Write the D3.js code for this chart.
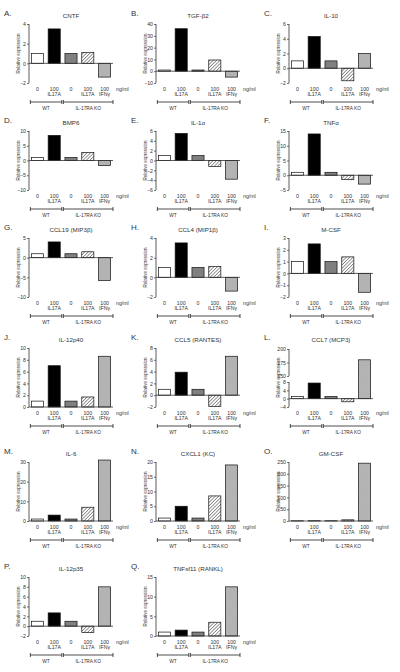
<!DOCTYPE html>
<html><head><meta charset="utf-8">
<script src="https://cdn.jsdelivr.net/npm/d3@7"></script>
<style>
body{margin:0;background:#fff}
svg{display:block}
text{font-family:"Liberation Sans",Arial,sans-serif;fill:#333}
</style>
</head><body><svg id="c" width="400" height="672"></svg>
<script>
const letters = ["A.","B.","C.","D.","E.","F.","G.","H.","I.","J.","K.","L.","M.","N.","O.","P.","Q."];
const titles = ["CNTF","TGF-β2","IL-10","BMP6","IL-1α","TNFα","CCL19 (MIP3β)","CCL4 (MIP1β)","M-CSF","IL-12p40","CCL5 (RANTES)","CCL7 (MCP3)","IL-6","CXCL1 (KC)","GM-CSF","IL-12p35","TNFsf11 (RANKL)"];
const conditions = ["WT 0","WT IL17A","KO 0","KO IL17A","KO IFNγ"];
const doseLabels = ["0","100","0","100","100"];
const treatLabels = ["","IL17A","","IL17A","IFNγ"];
const groupLabels = ["WT","IL-17RA KO"];

const valCNTF   = [1, 3.5, 1, 1.1, -1.4];
const valTGFb2  = [1, 36, 1, 9.5, -5];
const valIL10   = [1, 4.3, 1, -1.7, 2];
const valBMP6   = [1, 8.5, 1, 2.7, -1.7];
const valIL1a   = [1, 5.5, 1, -1.2, -3.8];
const valTNFa   = [1, 14, 1, -1.5, -3];
const valCCL19  = [1, 4, 1, 1.5, -5.8];
const valCCL4   = [1, 3.5, 1, 1.1, -1.4];
const valMCSF   = [1, 2.5, 1, 1.4, -1.6];
const valIL12p40= [1, 7, 1, 1.7, 8.6];
const valCCL5   = [1, 3.9, 1, -1.9, 6.6];
const valCCL7   = [1, 7.5, 1, -1.5, 180];
const valIL6    = [1, 3, 1, 7, 31];
const valCXCL1  = [1, 5, 1, 8.5, 19];
const valGMCSF  = [1, 1, 1, 5, 245];
const valIL12p35= [1, 2.7, 1, -1.3, 8];
const valRANKL  = [1, 1.5, 1, 3.5, 12.5];

const ticksCNTF = [-2,0,2,4];
const ticksTGFb2 = [-10,0,10,20,30,40];
const ticksIL10 = [-2,0,2,4,6];
const ticksBMP6 = [-10,-5,0,5,10];
const ticksIL1a = [-6,-4,-2,0,2,4,6];
const ticksTNFa = [-5,0,5,10,15];
const ticksCCL19 = [-10,-5,0,5];
const ticksCCL4 = [-2,0,2,4];
const ticksMCSF = [-2,-1,0,1,2,3];
const ticksIL12p40 = [0,2,4,6,8,10];
const ticksCCL5 = [-2,0,2,4,6,8];
const ticksCCL7low = [-4,0,4,8];
const ticksCCL7high = [150,175,200];
const ticksIL6 = [0,10,20,30];
const ticksCXCL1 = [0,5,10,15,20];
const ticksGMCSF = [0,50,100,150,200,250];
const ticksIL12p35 = [-2,0,2,4,6,8,10];
const ticksRANKL = [0,5,10,15];

const allVals = [valCNTF,valTGFb2,valIL10,valBMP6,valIL1a,valTNFa,valCCL19,valCCL4,valMCSF,valIL12p40,valCCL5,valCCL7,valIL6,valCXCL1,valGMCSF,valIL12p35,valRANKL];
const allTicks = [ticksCNTF,ticksTGFb2,ticksIL10,ticksBMP6,ticksIL1a,ticksTNFa,ticksCCL19,ticksCCL4,ticksMCSF,ticksIL12p40,ticksCCL5,null,ticksIL6,ticksCXCL1,ticksGMCSF,ticksIL12p35,ticksRANKL];

const colX = [0,127,260];
const rowY = [0,107,214,324,438,553];
const L = 29, R = 113, T = 24, B = 83;
const fills = ["#ffffff","#000000","#808080","url(#hatch)","url(#hatch2)"];

const svg = d3.select("#c");
const defs = svg.append("defs");
const pat = defs.append("pattern").attr("id","hatch").attr("patternUnits","userSpaceOnUse")
  .attr("width",2.4).attr("height",2.4).attr("patternTransform","rotate(45)");
pat.append("rect").attr("width",2.4).attr("height",2.4).attr("fill","#fff");
pat.append("line").attr("x1",0).attr("y1",0).attr("x2",0).attr("y2",2.4).attr("stroke","#444").attr("stroke-width",1.1);
const pat2 = defs.append("pattern").attr("id","hatch2").attr("patternUnits","userSpaceOnUse")
  .attr("width",2).attr("height",2).attr("patternTransform","rotate(45)");
pat2.append("rect").attr("width",2).attr("height",2).attr("fill","#b8b8b8");
pat2.append("line").attr("x1",0).attr("y1",0).attr("x2",0).attr("y2",2).attr("stroke","#999").attr("stroke-width",0.7);

const x = d3.scaleBand().domain(conditions).range([L,R]).paddingInner(0.28).paddingOuter(0.14);
const fmt = d3.format("d");

allVals.forEach((vals,i)=>{
  const g = svg.append("g").attr("transform",`translate(${colX[i%3]},${rowY[Math.floor(i/3)]})`);
  g.append("text").attr("x",4).attr("y",16).attr("font-size",8).text(letters[i]);
  g.append("text").attr("x",(L+R)/2).attr("y",18).attr("font-size",6.2).attr("text-anchor","middle").text(titles[i]);
  g.append("text").attr("transform",`translate(20,${(T+B)/2}) rotate(-90)`).attr("text-anchor","middle")
    .attr("font-size",4.6).text("Relative expression");

  let yv;
  const styleAxis = a => {
    a.selectAll("text").attr("font-size",5.2).style("fill","#333");
    a.selectAll("line").attr("stroke","#333").attr("stroke-width",0.7);
    a.select(".domain").remove();
  };
  if (i === 11) {
    const yLow = d3.scaleLinear().domain([-4,8]).range([B,58]);
    const yHigh = d3.scaleLinear().domain([150,200]).range([52,T+1]);
    yv = v => v <= 8 ? yLow(v) : yHigh(v);
    styleAxis(g.append("g").attr("transform",`translate(${L},0)`).call(d3.axisLeft(yLow).tickValues(ticksCCL7low).tickFormat(fmt).tickSize(2).tickPadding(1)));
    styleAxis(g.append("g").attr("transform",`translate(${L},0)`).call(d3.axisLeft(yHigh).tickValues(ticksCCL7high).tickFormat(fmt).tickSize(2).tickPadding(1)));
    g.append("line").attr("x1",L).attr("x2",L).attr("y1",B).attr("y2",58).attr("stroke","#333").attr("stroke-width",0.8);
    g.append("line").attr("x1",L).attr("x2",L).attr("y1",52).attr("y2",T+1).attr("stroke","#333").attr("stroke-width",0.8);
  } else {
    const t = allTicks[i];
    const y = d3.scaleLinear().domain([t[0],t[t.length-1]]).range([B,T]);
    yv = y;
    styleAxis(g.append("g").attr("transform",`translate(${L},0)`).call(d3.axisLeft(y).tickValues(t).tickFormat(fmt).tickSize(2).tickPadding(1)));
    g.append("line").attr("x1",L).attr("x2",L).attr("y1",B).attr("y2",T).attr("stroke","#333").attr("stroke-width",0.8);
  }
  const y0 = yv(0);
  g.selectAll("rect.bar").data(vals).join("rect").attr("class","bar")
    .attr("x",(d,j)=>x(conditions[j])).attr("width",x.bandwidth())
    .attr("y",d=>Math.min(yv(d),y0)).attr("height",d=>Math.abs(yv(d)-y0))
    .attr("fill",(d,j)=>fills[j]).attr("stroke","#111").attr("stroke-width",0.7);
  g.append("line").attr("x1",L).attr("x2",R).attr("y1",y0).attr("y2",y0).attr("stroke","#333").attr("stroke-width",0.8);

  conditions.forEach((c,j)=>{
    const cx = x(c)+x.bandwidth()/2;
    g.append("text").attr("x",cx).attr("y",B+7.5).attr("font-size",5.2).attr("text-anchor","middle").text(doseLabels[j]);
    if (treatLabels[j]) g.append("text").attr("x",cx).attr("y",B+12.5).attr("font-size",5.2).attr("text-anchor","middle").text(treatLabels[j]);
  });
  g.append("text").attr("x",R+3).attr("y",B+7.5).attr("font-size",5.2).text("ng/ml");

  const by = B+19;
  const mid = (x(conditions[1])+x.bandwidth()+x(conditions[2]))/2;
  const segs = [[x(conditions[0])-1, mid-0.8],[mid+0.8, R]];
  segs.forEach((s,k)=>{
    g.append("line").attr("x1",s[0]).attr("x2",s[1]).attr("y1",by).attr("y2",by).attr("stroke","#222").attr("stroke-width",0.8);
    [s[0],s[1]].forEach(xx=>g.append("line").attr("x1",xx).attr("x2",xx).attr("y1",by-2).attr("y2",by+2).attr("stroke","#222").attr("stroke-width",0.8));
    g.append("text").attr("x",(s[0]+s[1])/2).attr("y",by+7.5).attr("font-size",4.8).attr("text-anchor","middle").text(groupLabels[k]);
  });
});
</script></body></html>
